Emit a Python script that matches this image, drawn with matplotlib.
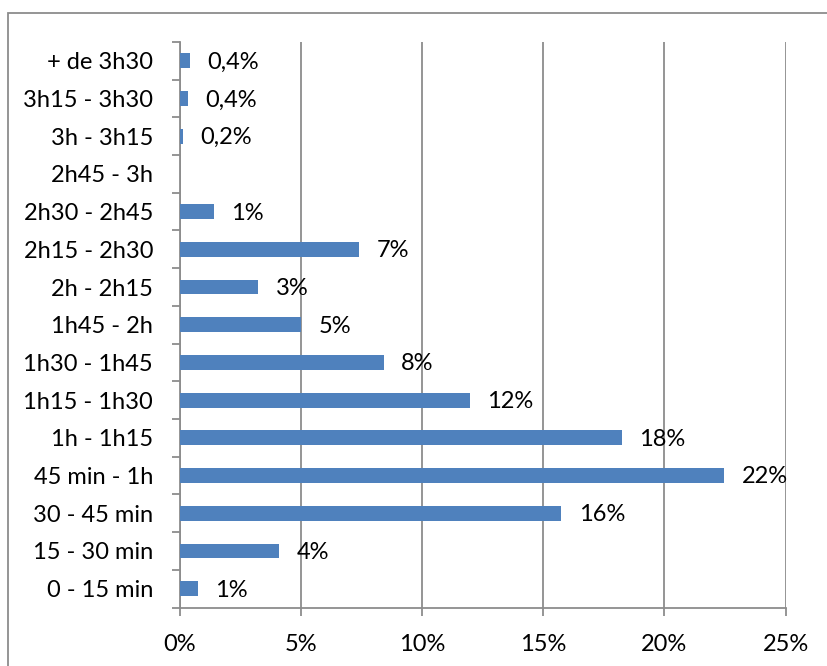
import matplotlib
matplotlib.use("Agg")
import matplotlib.pyplot as plt
from matplotlib.patches import Rectangle
from matplotlib.ticker import FuncFormatter

plt.rcParams['font.family'] = ['Lato', 'DejaVu Sans']

categories = ["0 - 15 min", "15 - 30 min", "30 - 45 min", "45 min - 1h",
              "1h - 1h15", "1h15 - 1h30", "1h30 - 1h45", "1h45 - 2h",
              "2h - 2h15", "2h15 - 2h30", "2h30 - 2h45", "2h45 - 3h",
              "3h - 3h15", "3h15 - 3h30", "+ de 3h30"]
values = [0.75, 4.11, 15.75, 22.47, 18.25, 11.97, 8.42, 5.01,
          3.25, 7.41, 1.41, 0.0, 0.16, 0.34, 0.43]
labels = ["1%", "4%", "16%", "22%", "18%", "12%", "8%", "5%",
          "3%", "7%", "1%", "", "0,2%", "0,4%", "0,4%"]
xticks = [0, 5, 10, 15, 20, 25]

W, H = 827, 666
FS = 17
fig = plt.figure(figsize=(W / 100, H / 100), dpi=100)

# outer chart frame
fig.patches.append(Rectangle((7.5 / W, -0.1), 1.2, 1 - 12.5 / H + 0.1,
                             transform=fig.transFigure, fill=False,
                             edgecolor="#8c8c8c", linewidth=1.3))

left, right, top, bottom = 179.5, 785.7, 42, 607.5
ax = fig.add_axes([left / W, 1 - bottom / H, (right - left) / W, (bottom - top) / H])

grid_col = "#8c8c8c"
ypos = list(range(len(categories)))
ax.barh(ypos, values, height=0.39, color="#4f81bd", zorder=3)

for y, v, lab in zip(ypos, values, labels):
    if lab:
        ax.annotate(lab, (v, y), xytext=(12.5, -1), textcoords="offset points",
                    ha="left", va="center", fontsize=FS, color="black", zorder=4)

ax.set_xlim(0, 25)
ax.set_ylim(-0.5, len(categories) - 0.5)
ax.set_xticks(xticks)
ax.xaxis.set_major_formatter(FuncFormatter(lambda x, p: f"{int(x)}%"))
ax.set_yticks(ypos)
ax.set_yticklabels(categories)
ax.set_yticks([i - 0.5 for i in range(len(categories) + 1)], minor=True)

ax.grid(axis="x", color=grid_col, linewidth=1.3, zorder=0)
for s in ["top", "right"]:
    ax.spines[s].set_visible(False)
for s in ["left", "bottom"]:
    ax.spines[s].set_color(grid_col)
    ax.spines[s].set_linewidth(1.3)

ax.tick_params(axis="y", which="major", length=0, pad=19, labelsize=FS)
ax.tick_params(axis="y", which="minor", length=6, width=1.3, color=grid_col)
ax.tick_params(axis="x", length=6, width=1.3, color=grid_col, pad=13, labelsize=FS)

fig.savefig("out.png", dpi=100)
